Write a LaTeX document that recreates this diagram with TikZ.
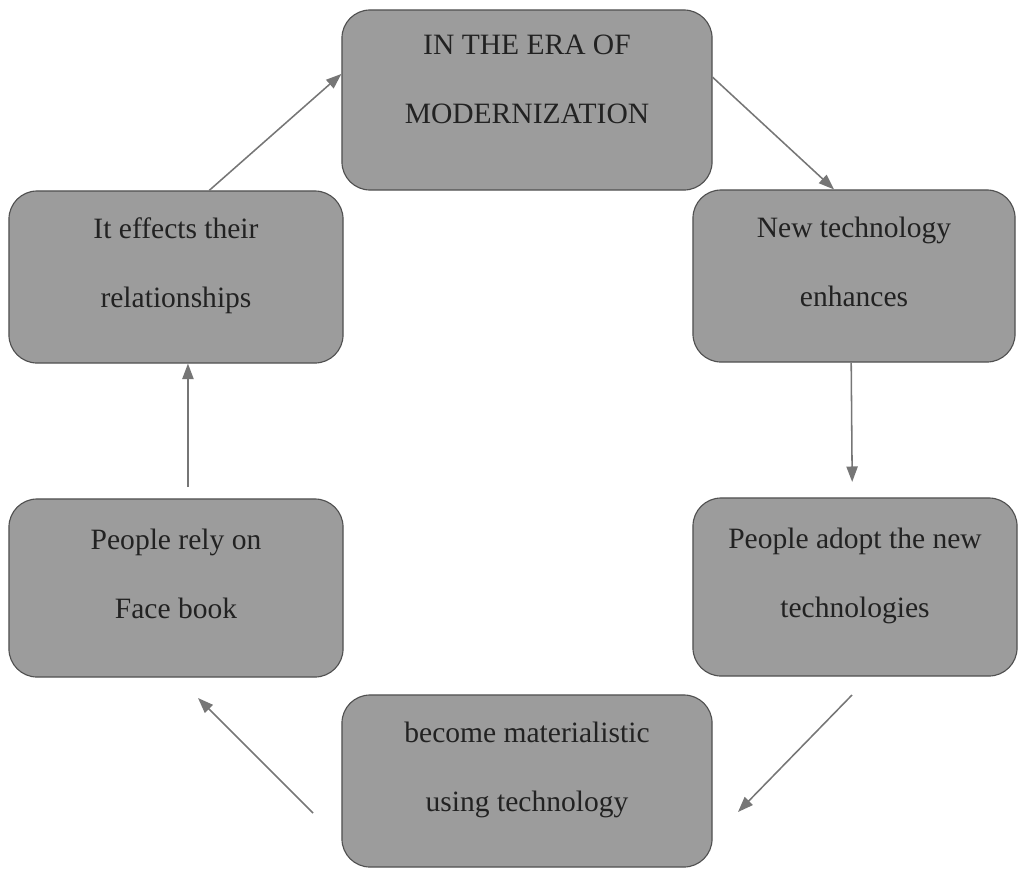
\documentclass[tikz,border=0pt]{standalone}
\usepackage{fontspec}
\setmainfont{Liberation Serif}
\usepackage{xcolor}
\usetikzlibrary{arrows.meta}
\definecolor{boxgray}{HTML}{9c9c9c}
\definecolor{edgegray}{HTML}{505050}
\definecolor{arrowgray}{HTML}{767676}
\definecolor{inkgray}{HTML}{222222}

\begin{document}
\begin{tikzpicture}[x=0.025cm, y=-0.025cm,
        stage/.style={draw=edgegray, fill=boxgray, rounded corners=20pt,
            align=center, text=inkgray, line width=0.8pt,
            font=\fontsize{21pt}{49pt}\selectfont,
            execute at end node={\rule[-20pt]{0pt}{0pt}}},
        flow/.style={draw=arrowgray, line width=1.1pt,
            -{Triangle[length=11pt, width=8pt]}}]
        % page frame
        \useasboundingbox (0, 0) rectangle (1024, 869);
        % draw the stages
        \node[stage, minimum width=9.25cm, minimum height=4.5cm,
            execute at end node={\rule[-30pt]{0pt}{0pt}}] (era) at (527, 100)
            {IN THE ERA OF\\MODERNIZATION};
        \node[stage, minimum width=8.05cm, minimum height=4.3cm] (tech) at (854, 276)
            {New technology\\enhances};
        \node[stage, minimum width=8.1cm, minimum height=4.45cm] (adopt) at (855, 587)
            {People adopt the new\\technologies};
        \node[stage, minimum width=9.25cm, minimum height=4.3cm] (mater) at (527, 781)
            {become materialistic\\using technology};
        \node[stage, minimum width=8.35cm, minimum height=4.45cm] (rely) at (176, 588)
            {People rely on\\Face book};
        \node[stage, minimum width=8.35cm, minimum height=4.3cm] (effects) at (176, 277)
            {It effects their\\relationships};
        % free ends of the lower arrows
        \coordinate (adoptout) at (852, 695);
        \coordinate (materin) at (738, 812);
        \coordinate (materout) at (313, 813);
        \coordinate (relyin) at (198, 698);
        % draw the cycle
        \draw[flow] (era.7) -- (tech.103);
        \draw[flow] ([xshift=-2pt]tech.south) -- ([xshift=-2pt, yshift=11pt]adopt.north);
        \draw[flow] (adoptout) -- (materin);
        \draw[flow] (materout) -- (relyin);
        \draw[flow] ([xshift=8.5pt, yshift=8pt]rely.north) -- ([xshift=8.5pt]effects.south);
        \draw[flow] (effects.69) -- (era.172);
    \end{tikzpicture}
\end{document}
